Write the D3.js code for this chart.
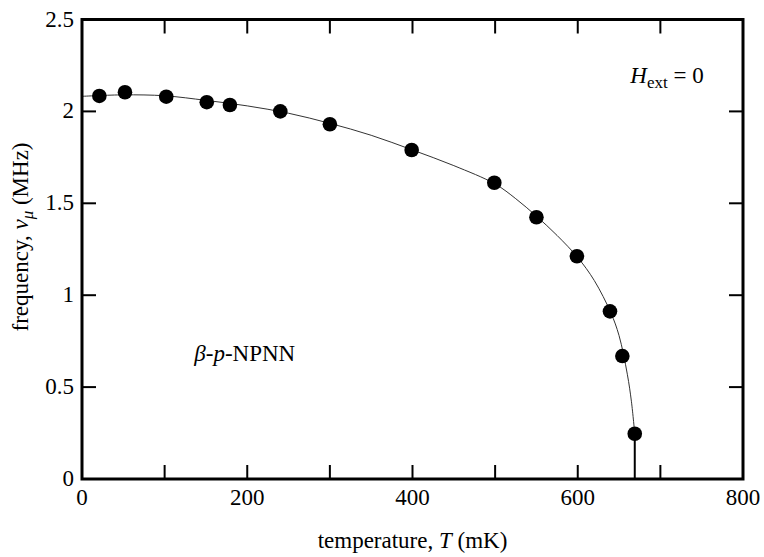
<!DOCTYPE html>
<html>
<head>
<meta charset="utf-8">
<script src="https://cdn.jsdelivr.net/npm/d3@7"></script>
<style>
  body { margin: 0; background: #fff; }
  text { font-family: "Liberation Serif", "DejaVu Serif", serif; fill: #000; }
</style>
</head>
<body>
<div id="viz"></div>
<script>
// measured points
const tempT = [21, 52, 102, 151, 179, 240, 300, 399, 499, 550, 599, 639, 654, 669];
const freqNu = [2.084, 2.104, 2.080, 2.050, 2.035, 2.000, 1.930, 1.790, 1.612, 1.424, 1.212, 0.912, 0.669, 0.246];

// fitted curve
const fitT = [0, 50, 100, 150, 200, 250, 300, 350, 400, 450, 500, 525, 550, 575, 600, 620, 640, 650, 660, 665, 669];
const fitNu = [2.082, 2.090, 2.085, 2.060, 2.030, 1.990, 1.935, 1.870, 1.790, 1.705, 1.605, 1.525, 1.430, 1.325, 1.205, 1.080, 0.905, 0.780, 0.570, 0.420, 0.246];

const xTicks = [0, 200, 400, 600, 800];
const yTicks = [0, 0.5, 1, 1.5, 2, 2.5];

const W = 764, H = 557;
const margin = {top: 19.5, left: 82, bottom: 78, right: 21};
const width = W - margin.left - margin.right;
const height = H - margin.top - margin.bottom;
const fs = '23px';

const svg = d3.select('#viz').append('svg')
  .attr('width', W)
  .attr('height', H);

const g = svg.append('g')
  .attr('transform', `translate(${margin.left},${margin.top})`);

const x = d3.scaleLinear().domain([0, 800]).range([0, width]);
const y = d3.scaleLinear().domain([0, 2.5]).range([height, 0]);

const tickLen = 14;

// inside ticks on all four sides
const xMinor = d3.range(100, 800, 100);
g.selectAll('.xt-b').data(xMinor).enter().append('line')
  .attr('x1', d => x(d)).attr('x2', d => x(d))
  .attr('y1', height).attr('y2', height - tickLen)
  .attr('stroke', '#000').attr('stroke-width', 2);
g.selectAll('.xt-t').data(xMinor).enter().append('line')
  .attr('x1', d => x(d)).attr('x2', d => x(d))
  .attr('y1', 0).attr('y2', tickLen)
  .attr('stroke', '#000').attr('stroke-width', 2);
const yInner = yTicks.slice(1, -1);
g.selectAll('.yt-l').data(yInner).enter().append('line')
  .attr('x1', 0).attr('x2', tickLen)
  .attr('y1', d => y(d)).attr('y2', d => y(d))
  .attr('stroke', '#000').attr('stroke-width', 2);
g.selectAll('.yt-r').data(yInner).enter().append('line')
  .attr('x1', width).attr('x2', width - tickLen)
  .attr('y1', d => y(d)).attr('y2', d => y(d))
  .attr('stroke', '#000').attr('stroke-width', 2);

// tick labels
g.selectAll('.xl').data(xTicks).enter().append('text')
  .attr('x', d => x(d)).attr('y', height + 26)
  .attr('text-anchor', 'middle')
  .style('font-size', fs)
  .text(d => d);
g.selectAll('.yl').data(yTicks).enter().append('text')
  .attr('x', -8).attr('y', d => y(d) + 7)
  .attr('text-anchor', 'end')
  .style('font-size', fs)
  .text(d => d);

// fit curve
const line = d3.line()
  .x((d, i) => x(fitT[i]))
  .y(d => y(d))
  .curve(d3.curveCatmullRom.alpha(0.5));
g.append('path')
  .attr('d', line(fitNu))
  .attr('fill', 'none')
  .attr('stroke', '#333')
  .attr('stroke-width', 1);

// drop to zero at T_c
const lastT = fitT[fitT.length - 1];
g.append('line')
  .attr('x1', x(lastT)).attr('x2', x(lastT))
  .attr('y1', y(fitNu[fitNu.length - 1])).attr('y2', y(0))
  .attr('stroke', '#000').attr('stroke-width', 2);

// data points
g.selectAll('circle').data(freqNu).enter().append('circle')
  .attr('cx', (d, i) => x(tempT[i]))
  .attr('cy', d => y(d))
  .attr('r', 7.3)
  .attr('fill', '#000');

// frame
g.append('rect')
  .attr('width', width).attr('height', height)
  .attr('fill', 'none')
  .attr('stroke', '#000')
  .attr('stroke-width', 3);

// axis titles
const xt = svg.append('text')
  .attr('x', margin.left + width / 2)
  .attr('y', 548)
  .attr('text-anchor', 'middle')
  .style('font-size', fs);
xt.append('tspan').text('temperature, ');
xt.append('tspan').style('font-style', 'italic').text('T');
xt.append('tspan').text(' (mK)');

const yt = svg.append('text')
  .attr('transform', 'translate(28,237) rotate(-90)')
  .attr('text-anchor', 'middle')
  .style('font-size', fs);
yt.append('tspan').text('frequency, ');
yt.append('tspan').style('font-style', 'italic').text('ν');
yt.append('tspan').style('font-style', 'italic').style('font-size', '17px').attr('dy', 5).text('μ');
yt.append('tspan').attr('dy', -5).text(' (MHz)');

// annotations
const ha = g.append('text')
  .attr('x', x(708)).attr('y', y(2.155))
  .attr('text-anchor', 'middle')
  .style('font-size', fs);
ha.append('tspan').style('font-style', 'italic').text('H');
ha.append('tspan').style('font-size', '17px').attr('dy', 5).text('ext');
ha.append('tspan').attr('dy', -5).text(' = 0');

const la = g.append('text')
  .attr('x', x(197)).attr('y', y(0.642))
  .attr('text-anchor', 'middle')
  .style('font-size', fs);
la.append('tspan').style('font-style', 'italic').text('β');
la.append('tspan').text('-');
la.append('tspan').style('font-style', 'italic').text('p');
la.append('tspan').text('-NPNN');
</script>
</body>
</html>
